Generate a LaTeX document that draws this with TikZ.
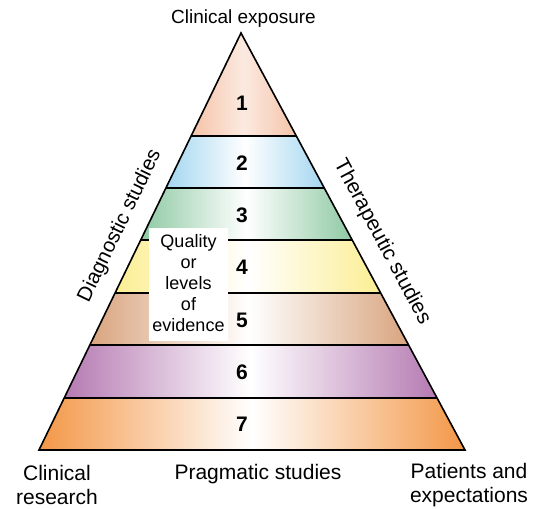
\documentclass[tikz,border=0pt]{standalone}
\usepackage{fontspec}
\setmainfont{Liberation Sans}
\usetikzlibrary{calc}
\definecolor{cA}{HTML}{F5C3A8}
\definecolor{cB}{HTML}{A3D6F0}
\definecolor{cC}{HTML}{8EC9A3}
\definecolor{cD}{HTML}{FBEE92}
\definecolor{cE}{HTML}{D9A47F}
\definecolor{cF}{HTML}{B57AB2}
\definecolor{cG}{HTML}{F39747}
\begin{document}
\begin{tikzpicture}[x=1pt,y=-1pt,
  lbl/.style={font=\fontsize{18}{21}\selectfont, inner sep=0pt, align=center},
  num/.style={font=\fontsize{21}{24}\selectfont\bfseries, inner sep=0pt},
  edge/.style={line width=1.6pt, line join=miter}]
\useasboundingbox (0,0) rectangle (537,508);
\fill[white] (0,0) rectangle (537,508);
\coordinate (A) at (241,33);
\coordinate (BL) at (39,450);
\coordinate (BR) at (465,450);
\foreach \n/\t in {1/0.2470,2/0.3717,3/0.4964,4/0.6235,5/0.7482,6/0.8753,7/1}{
  \coordinate (L\n) at ($(A)!\t!(BL)$);
  \coordinate (R\n) at ($(A)!\t!(BR)$);
}
% bands
\shade[left color=cA, right color=cA, middle color=cA!35] (A) -- (R1) -- (L1) -- cycle;
\shade[left color=cB, right color=cB, middle color=white] (L1) -- (R1) -- (R2) -- (L2) -- cycle;
\shade[left color=cC, right color=cC, middle color=white] (L2) -- (R2) -- (R3) -- (L3) -- cycle;
\shade[left color=cD, right color=cD, middle color=white] (L3) -- (R3) -- (R4) -- (L4) -- cycle;
\shade[left color=cE, right color=cE, middle color=white] (L4) -- (R4) -- (R5) -- (L5) -- cycle;
\shade[left color=cF, right color=cF, middle color=white] (L5) -- (R5) -- (R6) -- (L6) -- cycle;
\shade[left color=cG, right color=cG, middle color=white] (L6) -- (R6) -- (R7) -- (L7) -- cycle;
% outlines
\draw[edge] (A) -- (BR) -- (BL) -- cycle;
\foreach \n in {1,...,6}{\draw[edge] (L\n) -- (R\n);}
% white box
\fill[white] (149,228) rectangle (228,341);
\node[lbl, font=\fontsize{18}{21}\selectfont] (qual) at (188.5,283) {Quality\\or\\levels\\of\\evidence};
% numbers
\node[num] (n1) at (242,103) {1};
\node[num] (n2) at (242,163) {2};
\node[num] (n3) at (242,215) {3};
\node[num] (n4) at (242,267) {4};
\node[num] (n5) at (242,320) {5};
\node[num] (n6) at (242,372) {6};
\node[num] (n7) at (242,424) {7};
% labels
\node[lbl, font=\fontsize{19}{22}\selectfont] (top) at (243.5,19) {Clinical exposure};
\node[lbl, font=\fontsize{20.5}{24}\selectfont, rotate=64.2] (diag) at (120,226) {Diagnostic studies};
\node[lbl, font=\fontsize{21}{24}\selectfont, rotate=-61.8] (ther) at (382,242) {Therapeutic studies};
\node[lbl, font=\fontsize{21}{23.5}\selectfont] (cr) at (57,485) {Clinical\\research};
\node[lbl, font=\fontsize{21}{23.5}\selectfont] (ps) at (258,474) {Pragmatic studies};
\node[lbl, font=\fontsize{21}{23.5}\selectfont] (pe) at (469,485) {Patients and\\expectations};
\end{tikzpicture}
\end{document}
